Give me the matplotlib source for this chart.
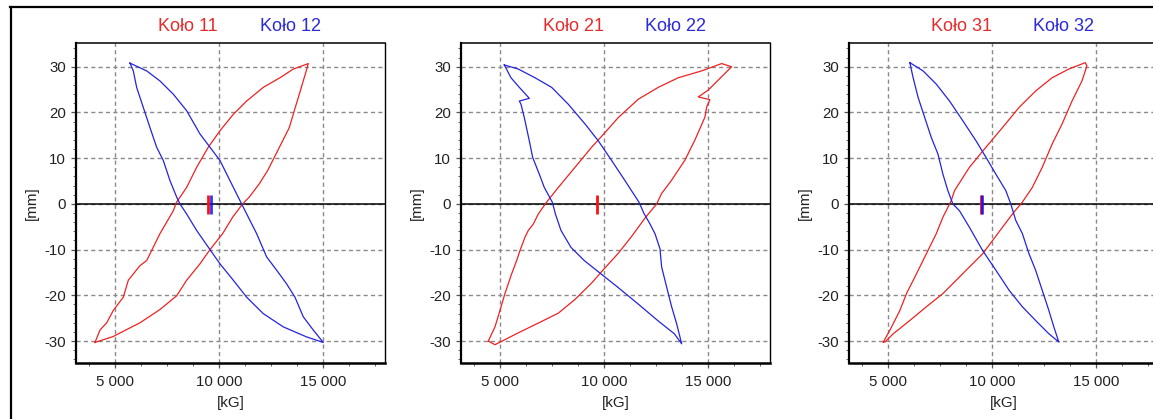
import matplotlib
matplotlib.use("Agg")
import matplotlib.pyplot as plt
from matplotlib.lines import Line2D
from matplotlib.ticker import FixedLocator, MultipleLocator

plt.rcParams['font.family'] = ['Liberation Sans', 'DejaVu Sans']

# ---------------- data (x in kG, y in mm) ----------------
titles_red = ["Koło 11", "Koło 21", "Koło 31"]
titles_blue = ["Koło 12", "Koło 22", "Koło 32"]

# Panel 1 - Koło 11 (red)
k11_x = [4024, 4263, 4586, 4904, 5385, 5625, 6186, 6507, 6747, 7148, 7789, 7950, 8430, 8911,
         9472, 10033, 10675, 11316, 12117, 12919, 13560, 14281,
         14137, 13849, 13608, 13368, 13047, 12726, 12326, 11925, 11444, 11123, 10643, 10162,
         9520, 9072, 8430, 7950, 7148, 6188, 5067, 4904, 4024]
k11_y = [-30.3, -27.6, -26.0, -23.3, -20.4, -16.7, -13.5, -12.4, -10.2, -6.5, -1.5, 0.4, 3.6, 8.0,
         12.4, 16.0, 19.6, 22.5, 25.5, 27.6, 29.5, 30.7,
         28.4, 24.0, 20.4, 16.7, 13.8, 10.9, 7.3, 4.4, 1.5, 0.0, -2.9, -6.5,
         -10.2, -13.1, -16.7, -20.1, -23.1, -26.0, -28.6, -29.0, -30.3]

# Panel 1 - Koło 12 (blue)
k12_x = [5705, 5866, 6026, 6347, 6667, 6988, 7308, 7629, 7950, 8110, 8430, 8911, 9553, 10033,
         10675, 11316, 12117, 13079, 14201, 15000,
         14522, 14041, 13640, 13240, 12759, 12278, 11797, 11396, 11075, 10514, 10033, 9553,
         9072, 8430, 7789, 7148, 6507, 5705]
k12_y = [30.8, 29.1, 25.5, 21.1, 16.7, 12.4, 9.5, 5.1, 1.5, 0.0, -2.2, -5.8, -10.0, -13.1,
         -16.7, -20.4, -24.0, -26.9, -29.1, -30.3,
         -27.6, -24.7, -20.4, -17.5, -14.5, -11.6, -6.5, -2.9, 0.0, 5.1, 9.5, 12.4,
         15.3, 20.4, 24.0, 26.9, 29.1, 30.8]

# Panel 2 - Koło 21 (red)
k21_x = [4423, 4744, 4984, 5224, 5545, 5785, 5946, 6186, 6347, 6587, 6828, 7228, 7789, 8591,
         9392, 10033, 10675, 11636, 12598, 13560, 14682, 15645, 16126,
         15482, 15001, 14520, 15082, 14923, 14842, 14361, 13881, 13240, 12759, 12518, 11958,
         11317, 10673, 9875, 9394, 8591, 7789, 6990, 5865, 4745, 4423]
k21_y = [-30.0, -26.9, -23.3, -19.6, -15.3, -12.4, -10.2, -7.3, -5.8, -4.4, -2.2, 0.4, 3.6, 8.0,
         12.4, 15.6, 18.9, 22.9, 25.5, 27.6, 29.1, 30.7, 30.0,
         27.1, 24.9, 23.4, 22.8, 21.2, 19.0, 14.0, 9.6, 5.2, 2.3, 0.0, -3.1,
         -7.1, -10.8, -14.8, -17.3, -20.9, -23.9, -25.7, -28.2, -30.8, -30.0]

# Panel 2 - Koło 22 (blue)
k22_x = [5192, 5513, 5914, 6395, 5914, 5994, 6154, 6395, 6555, 6876, 7116, 7500, 7650, 7918,
         8398, 9040, 9841, 10643, 11605, 12567, 13368, 13722,
         13480, 13240, 13000, 12759, 12678, 12438, 12200, 11900, 11680, 10995, 10354, 9713,
         9072, 8270, 7469, 6667, 5866, 5192]
k22_y = [30.4, 27.6, 25.5, 23.1, 22.5, 21.8, 18.9, 13.8, 10.2, 6.5, 3.6, 0.4, -2.2, -5.8,
         -9.5, -12.4, -15.3, -18.2, -21.8, -25.5, -28.4, -30.6,
         -26.2, -22.5, -18.2, -13.8, -9.8, -6.5, -4.4, -2.0, 0.3, 5.1, 9.5, 13.8,
         17.5, 21.8, 25.5, 27.6, 29.5, 30.4]

# Panel 3 - Koło 31 (red)
k31_x = [4761, 5080, 5557, 5876, 6353, 6831, 7308, 7627, 8025, 8184, 8900, 9696, 10492, 11288,
         12084, 12880, 13676, 14472,
         14552, 14313, 13836, 13358, 12880, 12403, 11925, 11448, 10970, 10492, 10015, 9537,
         8900, 8264, 7627, 6831, 6035, 5239, 4841, 4761]
k31_y = [-30.2, -27.6, -23.3, -19.6, -15.3, -10.9, -6.5, -2.9, 0.7, 2.9, 8.0, 12.4, 16.7, 21.1,
         24.7, 27.6, 29.5, 30.9,
         30.2, 26.9, 22.5, 17.5, 13.1, 8.0, 3.6, 0.4, -2.2, -5.1, -8.0, -10.9,
         -13.8, -16.7, -19.6, -22.5, -25.5, -28.4, -30.2, -30.2]

# Panel 3 - Koło 32 (blue)
k32_x = [6035, 6194, 6433, 6751, 7070, 7388, 7627, 7866, 8104, 8423, 8900, 9537, 10174, 10811,
         11448, 12084, 12721, 13199,
         12960, 12721, 12403, 12084, 11766, 11448, 11129, 10890, 10652, 10174, 9696, 9219,
         8582, 7945, 7308, 6672, 6035]
k32_y = [30.9, 27.6, 23.3, 18.9, 14.5, 10.9, 6.5, 2.9, 0.0, -1.5, -5.1, -10.2, -14.5, -18.9,
         -22.5, -25.5, -28.4, -30.2,
         -26.9, -23.3, -18.9, -14.5, -10.9, -6.5, -3.6, 0.0, 2.9, 6.5, 10.2, 13.8,
         18.2, 22.5, 26.2, 29.1, 30.9]

# mean-position markers (x position of short vertical bars)
mark_red = [9440, 9650, 9480]
mark_blue = [9585, None, 9520]
mark_y = [-2.3, 2.0]

x_ticks = [5000, 10000, 15000]
x_labels = ["5 000", "10 000", "15 000"]
y_ticks = [-30, -20, -10, 0, 10, 20, 30]
y_labels = ["-30", "-20", "-10", "0", "10", "20", "30"]

red_series = [(k11_x, k11_y), (k21_x, k21_y), (k31_x, k31_y)]
blue_series = [(k12_x, k12_y), (k22_x, k22_y), (k32_x, k32_y)]

# ---------------- figure ----------------
W, H = 1153, 419
fig = plt.figure(figsize=(W / 100, H / 100), dpi=100)
fig.patch.set_facecolor('white')

RED = '#ee2222'
BLUE = '#2424dd'
TXT_RED = '#e82a2a'
TXT_BLUE = '#2a2ad8'

ax_lefts = [76, 461, 849]
ax_w, ax_top, ax_bot = 309, 43, 363

for i in range(3):
    L = ax_lefts[i]
    ax = fig.add_axes([L / W, (H - ax_bot) / H, ax_w / W, (ax_bot - ax_top) / H])
    ax.set_xlim(3110, 17970)
    ax.set_ylim(-34.8, 35.2)

    ax.xaxis.set_major_locator(FixedLocator(x_ticks))
    ax.set_xticklabels(x_labels)
    ax.xaxis.set_minor_locator(MultipleLocator(1250))
    ax.yaxis.set_major_locator(FixedLocator(y_ticks))
    ax.set_yticklabels(y_labels)
    ax.yaxis.set_minor_locator(MultipleLocator(2))

    ax.tick_params(axis='both', which='major', direction='out', length=3.8, width=0.9,
                   color='#555555', labelsize=10.8, labelcolor='#222222')
    ax.tick_params(axis='both', which='minor', direction='out', length=2.0, width=0.7,
                   color='#666666')
    ax.tick_params(axis='x', which='major', pad=4.5)
    ax.tick_params(axis='y', which='major', pad=3.5)

    ax.grid(True, which='major', color='#8a8a8a', linewidth=1.0, linestyle=(0, (3, 2.3)))
    ax.set_axisbelow(True)

    ax.spines['left'].set_linewidth(1.6)
    ax.spines['bottom'].set_linewidth(1.8)
    ax.spines['top'].set_linewidth(1.1)
    ax.spines['right'].set_linewidth(1.0)
    for s in ax.spines.values():
        s.set_color('black')

    ax.axhline(0, color='black', linewidth=1.1, zorder=2)

    rx, ry = red_series[i]
    bx, by = blue_series[i]
    ax.plot(rx, ry, color=RED, linewidth=0.9, zorder=3)
    ax.plot(bx, by, color=BLUE, linewidth=0.9, zorder=3)

    ax.plot([mark_red[i], mark_red[i]], mark_y, color='#ff1010', linewidth=2.0,
            solid_capstyle='butt', zorder=4)
    if mark_blue[i] is not None:
        ax.plot([mark_blue[i], mark_blue[i]], mark_y, color='#1010ff', linewidth=2.0,
                solid_capstyle='butt', zorder=4, alpha=0.85)

    ax.text(0.3625, 1.053, titles_red[i], transform=ax.transAxes, ha='center', va='center',
            fontsize=13, color=TXT_RED)
    ax.text(0.6926, 1.053, titles_blue[i], transform=ax.transAxes, ha='center', va='center',
            fontsize=13, color=TXT_BLUE)
    ax.text(0.5, -0.125, "[kG]", transform=ax.transAxes, ha='center', va='center',
            fontsize=11, color='#222222')
    ax.text(-0.142, 0.5, "[mm]", transform=ax.transAxes, ha='center', va='center',
            rotation=90, fontsize=11, color='#222222')

# outer frame lines (top and left)
fig.add_artist(Line2D([10 / W, 1.0], [1 - 7 / H, 1 - 7 / H], transform=fig.transFigure,
                      color='black', linewidth=1.6))
fig.add_artist(Line2D([11 / W, 11 / W], [1 - 7 / H, 0.0], transform=fig.transFigure,
                      color='black', linewidth=1.6))

fig.savefig("out.png", dpi=100, facecolor='white')
